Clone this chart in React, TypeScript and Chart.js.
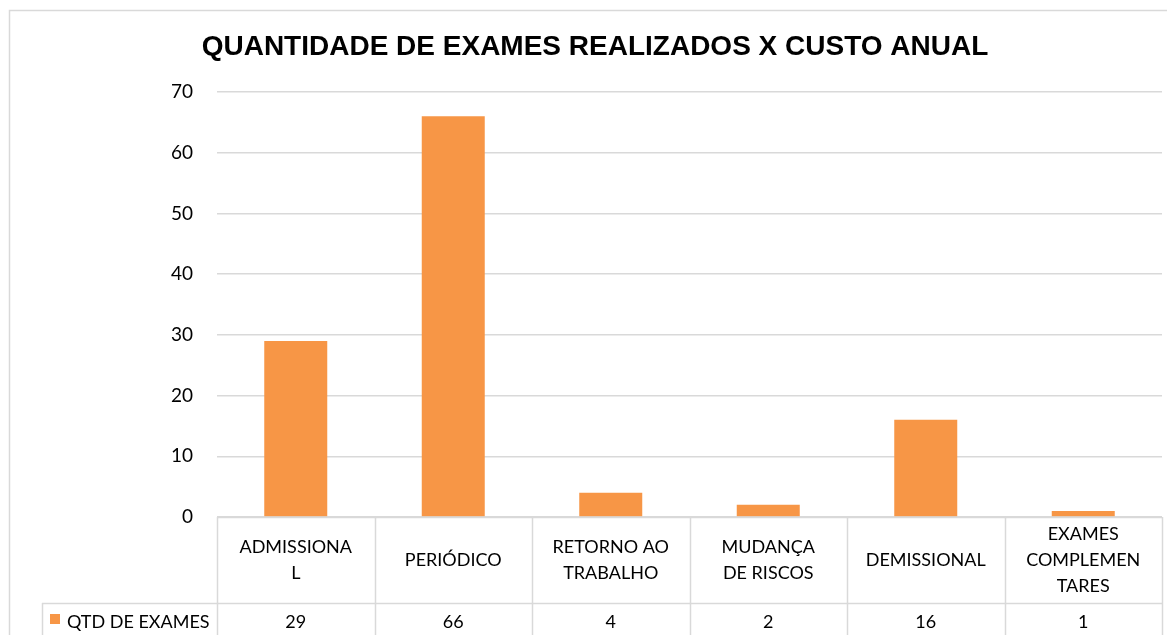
import React, { useEffect, useRef } from "react";
import { Chart, registerables } from "chart.js";

Chart.register(...registerables);

const TITLE = "QUANTIDADE DE EXAMES REALIZADOS X CUSTO ANUAL";
const SERIES_NAME = "QTD DE EXAMES";
const CATEGORIES: string[][] = [
  ["ADMISSIONA", "L"],
  ["PERIÓDICO"],
  ["RETORNO AO", "TRABALHO"],
  ["MUDANÇA", "DE RISCOS"],
  ["DEMISSIONAL"],
  ["EXAMES", "COMPLEMEN", "TARES"],
];
const VALUES: number[] = [29, 66, 4, 2, 16, 1];
const Y_TICKS: number[] = [0, 10, 20, 30, 40, 50, 60, 70];

const BAR_COLOR = "#F79646";
const LINE_COLOR = "#D9D9D9";
const FONT = "Lato, 'Open Sans', sans-serif";

const tablePlugin = {
  id: "excelTable",
  afterDraw(chart: any) {
    const ctx = chart.ctx as CanvasRenderingContext2D;
    const area = chart.chartArea;
    const xs = chart.scales.x;
    const n = CATEGORIES.length;
    const left = area.left;
    const right = area.right;
    const step = (right - left) / n;
    const top = area.bottom;
    const rowSplit = top + 86;
    const bottom = chart.height + 5;
    ctx.save();
    // outer chart border
    ctx.strokeStyle = LINE_COLOR;
    ctx.lineWidth = 1.5;
    ctx.beginPath();
    ctx.moveTo(9.5, chart.height + 5);
    ctx.lineTo(9.5, 10.5);
    ctx.lineTo(chart.width + 5, 10.5);
    ctx.stroke();

    // title
    ctx.fillStyle = "#000";
    ctx.font = "bold 28px 'Liberation Sans', Arial, sans-serif";
    ctx.textAlign = "center";
    ctx.textBaseline = "middle";
    ctx.fillText(TITLE, 595, 47);

    // table lines
    ctx.lineWidth = 1.5;
    ctx.strokeStyle = LINE_COLOR;
    ctx.beginPath();
    ctx.moveTo(left, top + 0.5);
    ctx.lineTo(right, top + 0.5);
    ctx.moveTo(42, rowSplit + 0.5);
    ctx.lineTo(right, rowSplit + 0.5);
    for (let i = 0; i <= n; i++) {
      const x = Math.round(left + i * step) + 0.5;
      ctx.moveTo(x, top);
      ctx.lineTo(x, bottom);
    }
    ctx.moveTo(42.5, rowSplit);
    ctx.lineTo(42.5, bottom);
    ctx.stroke();

    // category labels
    ctx.fillStyle = "#000";
    ctx.font = `18px ${FONT}`;
    ctx.textAlign = "center";
    ctx.textBaseline = "middle";
    const lh = 26;
    const midCat = (top + rowSplit) / 2;
    CATEGORIES.forEach((lines, i) => {
      const cx = xs.getPixelForValue(i);
      const y0 = midCat - ((lines.length - 1) * lh) / 2;
      lines.forEach((ln, j) => ctx.fillText(ln, cx, y0 + j * lh));
      ctx.fillText(String(VALUES[i]), cx, rowSplit + 19);
    });

    // legend key
    ctx.fillStyle = BAR_COLOR;
    ctx.fillRect(50, 614, 10, 10);
    ctx.fillStyle = "#000";
    ctx.textAlign = "left";
    ctx.fillText(SERIES_NAME, 67, rowSplit + 19);
    ctx.restore();
  },
};

export default function App() {
  const ref = useRef<HTMLCanvasElement>(null);
  useEffect(() => {
    if (!ref.current) return;
    const chart = new Chart(ref.current, {
      type: "bar",
      data: {
        labels: CATEGORIES.map((c) => c.join("")),
        datasets: [
          {
            label: SERIES_NAME,
            data: VALUES,
            backgroundColor: BAR_COLOR,
            borderWidth: 0,
            categoryPercentage: 1,
            barPercentage: 0.4,
          },
        ],
      },
      options: {
        responsive: false,
        animation: false,
        layout: { padding: { top: 92, right: 5, bottom: 118, left: 0 } },
        plugins: {
          legend: { display: false },
          title: { display: false },
          tooltip: { enabled: false },
        },
        scales: {
          x: {
            display: false,
          },
          y: {
            min: 0,
            max: 70,
            afterFit: (s: any) => {
              s.width = 217;
            },
            afterBuildTicks: (s: any) => {
              s.ticks = Y_TICKS.map((v) => ({ value: v }));
            },
            border: { display: false },
            grid: { color: LINE_COLOR, lineWidth: 1.5, drawTicks: false },
            ticks: {
              padding: 24,
              color: "#000",
              font: { family: FONT, size: 19 },
            },
          },
        },
      },
      plugins: [tablePlugin],
    });
    return () => chart.destroy();
  }, []);
  return (
    <div style={{ position: "absolute", left: 0, top: 0, width: 1167, height: 635 }}>
      <canvas ref={ref} width={1167} height={635} style={{ display: "block" }} />
    </div>
  );
}
